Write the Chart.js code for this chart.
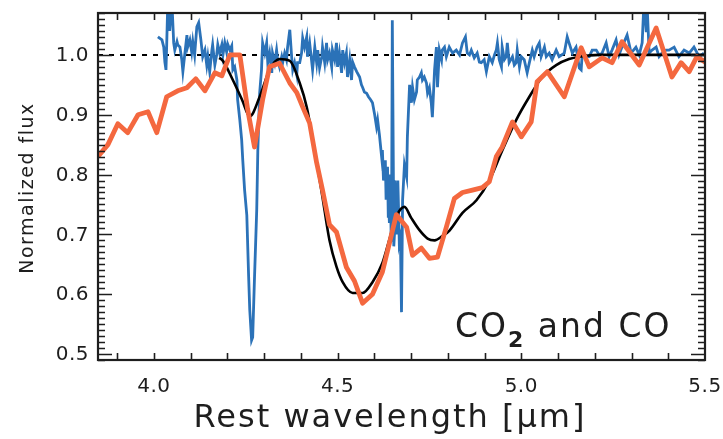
<!DOCTYPE html>
<html>
<head>
<meta charset="utf-8">
<script src="https://cdn.jsdelivr.net/npm/chart.js@4.4.1/dist/chart.umd.min.js"></script>
<style>
    body { margin: 0; background: #fff; }
    #wrap { width: 723px; height: 439px; }
</style>
</head>
<body>
<div id="wrap"><canvas id="flux-chart" width="723" height="439"></canvas></div>
<script>
// observed spectrum (blue)
const obsWave = [4.011, 4.022, 4.027, 4.030, 4.033, 4.035, 4.038, 4.043, 4.049, 4.054, 4.057, 4.063, 4.065, 4.071, 4.076, 4.079, 4.084, 4.090, 4.092, 4.098,
    4.103, 4.106, 4.111, 4.117, 4.122, 4.128, 4.133, 4.139, 4.144, 4.147, 4.152, 4.158, 4.160, 4.166, 4.171, 4.174, 4.179, 4.185, 4.188, 4.193,
    4.198, 4.201, 4.207, 4.212, 4.215, 4.220, 4.226, 4.228, 4.234, 4.239, 4.242, 4.247, 4.253, 4.258, 4.261, 4.266, 4.269, 4.274, 4.280, 4.283,
    4.288, 4.293, 4.296, 4.302, 4.307, 4.310, 4.315, 4.321, 4.323, 4.329, 4.334, 4.337, 4.342, 4.348, 4.351, 4.356, 4.361, 4.364, 4.370, 4.375,
    4.378, 4.383, 4.389, 4.391, 4.397, 4.402, 4.405, 4.410, 4.416, 4.418, 4.424, 4.429, 4.432, 4.438, 4.443, 4.446, 4.451, 4.457, 4.459, 4.465,
    4.470, 4.473, 4.478, 4.484, 4.486, 4.492, 4.497, 4.500, 4.505, 4.511, 4.514, 4.519, 4.524, 4.527, 4.533, 4.538, 4.541, 4.546, 4.552, 4.560,
    4.565, 4.568, 4.573, 4.579, 4.584, 4.590, 4.595, 4.601, 4.606, 4.609, 4.614, 4.620, 4.622, 4.625, 4.628, 4.630, 4.632, 4.633, 4.636, 4.638,
    4.639, 4.641, 4.643, 4.644, 4.646, 4.647, 4.649, 4.652, 4.653, 4.655, 4.656, 4.658, 4.660, 4.661, 4.663, 4.664, 4.666, 4.668, 4.671, 4.674,
    4.677, 4.682, 4.688, 4.690, 4.696, 4.701, 4.704, 4.709, 4.715,
    4.717, 4.723, 4.728, 4.731, 4.736, 4.742, 4.745, 4.750, 4.755, 4.758, 4.764, 4.769, 4.772, 4.777, 4.783, 4.785, 4.791, 4.796, 4.804, 4.813,
    4.823, 4.832, 4.840, 4.848, 4.853, 4.859, 4.864, 4.872, 4.880, 4.886, 4.891, 4.899, 4.905, 4.913, 4.921, 4.927, 4.932, 4.935, 4.940, 4.946,
    4.948, 4.954, 4.959, 4.962, 4.967, 4.976, 4.981, 4.986, 4.989, 4.995, 5.000, 5.008, 5.016, 5.022, 5.030, 5.035, 5.043, 5.049, 5.054, 5.063,
    5.068, 5.076, 5.084, 5.095, 5.103, 5.117, 5.125, 5.130, 5.139, 5.149, 5.158, 5.163, 5.166, 5.177, 5.185, 5.193, 5.204, 5.212, 5.220, 5.231,
    5.239, 5.247, 5.258, 5.266, 5.274, 5.288, 5.299, 5.312, 5.321, 5.329, 5.334, 5.340, 5.342, 5.348, 5.356, 5.367, 5.375, 5.383, 5.394, 5.402,
    5.416, 5.429, 5.443, 5.457, 5.470, 5.484, 5.497]
const obsFlux = [1.030, 1.025, 1.013, 0.988, 0.975, 1.017, 1.090, 1.040, 1.090, 1.020, 1.008, 1.022, 1.017, 1.013, 0.992, 0.972, 1.000, 1.033, 1.013, 1.025,
    1.005, 1.022, 1.000, 1.047, 1.054, 1.025, 0.997, 1.008, 0.983, 0.997, 0.972, 1.008, 1.017, 0.983, 1.000, 1.017, 1.003, 1.017, 1.000, 1.020,
    1.005, 1.018, 1.008, 1.015, 0.975, 0.980, 0.958, 0.925, 0.891, 0.858, 0.824, 0.774, 0.732, 0.629, 0.574, 0.523, 0.528, 0.629, 0.741, 0.841,
    0.936, 0.975, 1.020, 1.003, 1.020, 0.987, 1.003, 0.970, 1.003, 0.987, 1.008, 0.992, 0.980, 0.997, 0.988, 1.003, 0.992, 1.013, 1.042, 0.997,
    0.975, 0.987, 0.967, 0.987, 0.987, 1.003, 1.028, 1.013, 1.030, 0.997, 1.020, 0.992, 0.975, 1.013, 0.987, 1.008, 0.978, 0.997, 1.013, 0.987,
    1.020, 0.992, 1.003, 0.980, 1.008, 0.992, 1.020, 0.980, 1.003, 0.970, 1.008, 0.987, 1.003, 0.963, 0.992, 0.958, 0.988, 0.980, 0.972, 0.963,
    0.950, 0.946, 0.938, 0.936, 0.930, 0.925, 0.920, 0.900, 0.880, 0.891, 0.866, 0.829, 0.841, 0.790, 0.808, 0.824, 0.760, 0.783, 0.813, 0.730,
    0.758, 0.719, 0.800, 0.766, 0.690, 0.719, 1.058, 0.791, 0.680, 0.702, 0.790, 0.758, 0.783, 0.700, 0.716, 0.790, 0.741, 0.686, 0.695, 0.570,
    0.758, 0.816, 0.796, 0.863, 0.950, 0.920, 0.946, 0.925, 0.938,
    0.958, 0.963, 0.970, 0.958, 0.963, 0.953, 0.936, 0.945, 0.920, 0.896, 0.975, 1.013, 0.946, 1.008, 0.992, 1.008, 1.013, 0.997, 1.013, 1.003,
    1.008, 1.000, 1.020, 1.030, 1.003, 1.000, 1.008, 0.995, 1.003, 0.988, 0.987, 0.992, 0.972, 0.997, 0.987, 1.000, 1.008, 1.020, 0.992, 0.980,
    1.013, 0.992, 0.997, 1.020, 0.987, 0.997, 0.983, 0.987, 1.008, 0.980, 0.997, 0.992, 0.970, 0.987, 1.008, 0.997, 1.013, 1.020, 0.997, 1.013,
    0.997, 1.003, 0.992, 1.008, 0.997, 1.003, 1.030, 1.020, 1.003, 1.013, 0.978, 0.975, 1.003, 0.997, 0.997, 1.008, 1.008, 1.000, 1.003, 1.020,
    0.997, 1.008, 1.025, 1.000, 1.013, 1.033, 1.003, 1.013, 1.000, 1.020, 1.090, 1.040, 1.090, 1.003, 1.008, 1.013, 0.997, 1.003, 1.008, 1.008,
    1.013, 0.997, 1.008, 1.003, 1.013, 0.997, 1.003]

// model fit (black)
const modelWave = [4.178, 4.188, 4.215, 4.240, 4.261, 4.288, 4.315, 4.342, 4.370, 4.397, 4.416, 4.438, 4.459, 4.478, 4.497, 4.514, 4.541, 4.568, 4.595, 4.622,
    4.645, 4.660, 4.682, 4.700, 4.723, 4.745, 4.764, 4.785, 4.804, 4.840, 4.878, 4.913, 4.948, 4.986, 5.022, 5.057, 5.095, 5.130, 5.158, 5.212, 5.500]
const modelFlux = [0.995, 0.990, 0.958, 0.925, 0.897, 0.930, 0.975, 0.993, 0.990, 0.953, 0.913, 0.840, 0.762, 0.690, 0.646, 0.620, 0.602, 0.602, 0.620, 0.652,
    0.700, 0.730, 0.746, 0.728, 0.707, 0.693, 0.690, 0.697, 0.706, 0.736, 0.757, 0.790, 0.840, 0.891, 0.930, 0.963, 0.983, 0.993, 0.997, 1.000, 1.000]

// low resolution spectrum (orange)
const lowresWave = [3.848, 3.875, 3.902, 3.929, 3.957, 3.984, 4.008, 4.035, 4.065, 4.090, 4.114, 4.139, 4.166, 4.185, 4.207, 4.234, 4.255, 4.274, 4.296, 4.315,
    4.342, 4.370, 4.389, 4.405, 4.424, 4.443, 4.459, 4.478, 4.497, 4.524, 4.546, 4.568, 4.595, 4.622, 4.660, 4.688, 4.704, 4.728, 4.750, 4.772,
    4.796, 4.818, 4.840, 4.867, 4.894, 4.913, 4.932, 4.948, 4.976, 5.000, 5.027, 5.043, 5.071, 5.117, 5.163, 5.185, 5.220, 5.247, 5.274, 5.321,
    5.367, 5.410, 5.435, 5.457, 5.478, 5.503]
const lowresFlux = [0.830, 0.850, 0.885, 0.870, 0.900, 0.905, 0.870, 0.930, 0.940, 0.945, 0.960, 0.940, 0.970, 0.965, 1.000, 1.000, 0.910, 0.846, 0.925, 0.980,
    0.986, 0.953, 0.937, 0.913, 0.886, 0.820, 0.774, 0.716, 0.704, 0.645, 0.622, 0.585, 0.600, 0.637, 0.733, 0.712, 0.665, 0.677, 0.660, 0.662,
    0.712, 0.760, 0.770, 0.774, 0.778, 0.788, 0.830, 0.846, 0.888, 0.863, 0.888, 0.955, 0.972, 0.930, 1.012, 0.980, 0.995, 0.987, 1.022, 0.983,
    1.045, 0.963, 0.987, 0.972, 0.997, 0.987]

const continuumWave = [3.848, 5.5]
const continuumFlux = [1.0, 1.0]

const xRange = [3.848, 5.5]
const yRange = [0.49, 1.07]
const xTickLabels = [4.0, 4.5, 5.0, 5.5]
const yTickLabels = [0.5, 0.6, 0.7, 0.8, 0.9, 1.0]

const FONT = "'DejaVu Sans', sans-serif"
const INK = '#1e1e1e'

function toPoints(xs, ys) {
    return xs.map((v, i) => ({x: v, y: ys[i]}))
}

// frame with inward ticks on all four sides, tick labels, axis titles and the species label
const frameTicks = {
    id: 'frameTicks',
    afterDraw(chart) {
        const ctx = chart.ctx
        const a = chart.chartArea
        const x = chart.scales.x
        const y = chart.scales.y
        ctx.save()
        ctx.strokeStyle = INK
        ctx.lineWidth = 1.6
        ctx.beginPath()
        for (let k = 39; k <= 55; k++) {
            const px = Math.round(x.getPixelForValue(k / 10)) + 0.5
            if (px <= a.left + 1 || px >= a.right - 1) continue
            ctx.moveTo(px, a.bottom); ctx.lineTo(px, a.bottom - 7)
            ctx.moveTo(px, a.top); ctx.lineTo(px, a.top + 7)
        }
        for (let k = 49; k <= 107; k++) {
            const py = Math.round(y.getPixelForValue(k / 100)) + 0.5
            const len = k % 10 === 0 ? 14 : 7
            ctx.moveTo(a.left, py); ctx.lineTo(a.left + len, py)
            ctx.moveTo(a.right, py); ctx.lineTo(a.right - len, py)
        }
        ctx.stroke()
        ctx.lineWidth = 2.2
        ctx.strokeRect(a.left, a.top, a.right - a.left, a.bottom - a.top)

        ctx.fillStyle = INK
        // tick labels
        ctx.font = '20px ' + FONT
        ctx.letterSpacing = '0.5px'
        ctx.textBaseline = 'middle'
        ctx.textAlign = 'right'
        yTickLabels.forEach(v => ctx.fillText(v.toFixed(1), a.left - 9, y.getPixelForValue(v) + 1))
        ctx.textAlign = 'center'
        xTickLabels.forEach(v => ctx.fillText(v.toFixed(1), x.getPixelForValue(v), a.bottom + 27))

        ctx.textBaseline = 'alphabetic'
        // x title
        ctx.font = '32px ' + FONT
        ctx.letterSpacing = '2px'
        ctx.fillText('Rest wavelength [\u03bcm]', 390, 427)
        // y title
        ctx.save()
        ctx.translate(33, 188)
        ctx.rotate(-Math.PI / 2)
        ctx.font = '19px ' + FONT
        ctx.letterSpacing = '1.5px'
        ctx.fillText('Normalized flux', 0, 0)
        ctx.restore()
        // species label
        ctx.letterSpacing = '2px'
        ctx.textAlign = 'left'
        ctx.font = '33px ' + FONT
        let tx = 455
        ctx.fillText('CO', tx, 337)
        tx += ctx.measureText('CO').width
        ctx.font = 'bold 22px ' + FONT
        ctx.fillText('2', tx, 347)
        tx += ctx.measureText('2').width
        ctx.font = '33px ' + FONT
        ctx.fillText(' and CO', tx, 337)
        ctx.restore()
    }
}

const ctx = document.getElementById('flux-chart').getContext('2d')
const chart = new Chart(ctx, {
    type: 'line',
    data: {
        datasets: [{
            label: 'low resolution',
            data: toPoints(lowresWave, lowresFlux),
            borderColor: '#f4683f',
            borderWidth: 4.8,
            borderJoinStyle: 'round',
            pointRadius: 0
        }, {
            label: 'model',
            data: toPoints(modelWave, modelFlux),
            borderColor: '#000000',
            borderWidth: 2.6,
            cubicInterpolationMode: 'monotone',
            pointRadius: 0
        }, {
            label: 'observed',
            data: toPoints(obsWave, obsFlux),
            borderColor: '#2b72b8',
            borderWidth: 2.8,
            pointRadius: 0
        }, {
            label: 'continuum',
            data: toPoints(continuumWave, continuumFlux),
            borderColor: '#000000',
            borderWidth: 2,
            borderDash: [5, 6],
            pointRadius: 0
        }]
    },
    options: {
        responsive: false,
        animation: false,
        events: [],
        layout: { padding: { top: 13, right: 18, left: 0, bottom: 0 } },
        plugins: { legend: { display: false }, tooltip: { enabled: false } },
        scales: {
            x: {
                type: 'linear',
                min: xRange[0],
                max: xRange[1],
                grid: { display: false, drawTicks: false },
                border: { display: false },
                ticks: { display: false },
                afterFit: s => { s.height = 79; s.paddingLeft = 0; s.paddingRight = 0 }
            },
            y: {
                min: yRange[0],
                max: yRange[1],
                grid: { display: false, drawTicks: false },
                border: { display: false },
                ticks: { display: false },
                afterFit: s => { s.width = 98; s.paddingTop = 0; s.paddingBottom = 0 }
            }
        }
    },
    plugins: [frameTicks]
})
</script>
</body>
</html>
